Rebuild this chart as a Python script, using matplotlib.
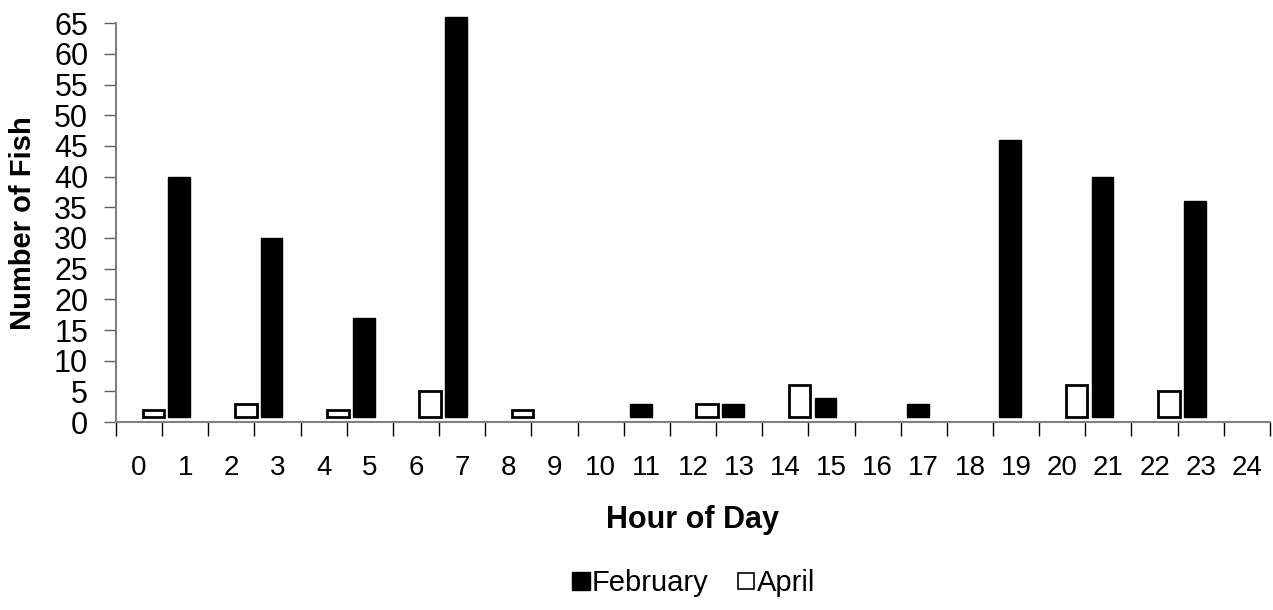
import matplotlib.pyplot as plt
from matplotlib.lines import Line2D

plt.rcParams['font.family'] = ['Liberation Sans', 'DejaVu Sans']

# Catches per hour of day
hour_labels = [str(h) for h in range(25)]
feb_hours = [1, 3, 5, 7, 11, 13, 15, 17, 19, 21, 23]
feb_counts = [40, 30, 17, 66, 3, 3, 4, 3, 46, 40, 36]
apr_hours = [0, 2, 4, 6, 8, 12, 14, 20, 22]
apr_counts = [2, 3, 2, 5, 2, 3, 6, 6, 5]

base = 0.85
width = 0.47

fig = plt.figure(figsize=(12.73, 6.10), dpi=100)
ax = fig.add_axes([0.0911, 0.308, 0.9065, 0.654])

ax.bar([h + 0.31 for h in apr_hours], [c - base for c in apr_counts], width,
       bottom=base, color='white', edgecolor='black', linewidth=2, clip_on=False)
ax.bar([h - 0.13 for h in feb_hours], [c - base for c in feb_counts], width,
       bottom=base, color='black', edgecolor='black', linewidth=1, clip_on=False)

ax.set_xlim(-0.5, 24.5)
ax.set_ylim(0, 65)
ax.set_yticks(range(0, 66, 5))
ax.set_xticks(range(25))
ax.set_xticklabels(hour_labels)
ax.set_xticks([x - 0.5 for x in range(26)], minor=True)
ax.tick_params(axis='x', which='major', length=0, pad=24, labelsize=20)
ax.tick_params(axis='x', which='minor', length=10, width=1, color='black')
ax.tick_params(axis='y', length=9, width=1, color='#606060', pad=11, labelsize=22)

for side in ['top', 'right']:
    ax.spines[side].set_visible(False)
for side in ['left', 'bottom']:
    ax.spines[side].set_color('#808080')
    ax.spines[side].set_linewidth(1.5)

ax.set_xlabel('Hour of Day', fontsize=22, fontweight='bold', labelpad=17)
ax.set_ylabel('Number of Fish', fontsize=21, fontweight='bold', labelpad=12)

handles = [
    Line2D([], [], marker='s', linestyle='none', markersize=13,
           markerfacecolor='black', markeredgecolor='black'),
    Line2D([], [], marker='s', linestyle='none', markersize=12,
           markerfacecolor='white', markeredgecolor='black', markeredgewidth=1.2),
]
fig.legend(handles, ['February', 'April'], loc='center', bbox_to_anchor=(0.545, 0.044),
           ncol=2, frameon=False, fontsize=21, handlelength=0.6, handletextpad=0.05,
           columnspacing=1.0)

fig.savefig('out.png', dpi=100)
